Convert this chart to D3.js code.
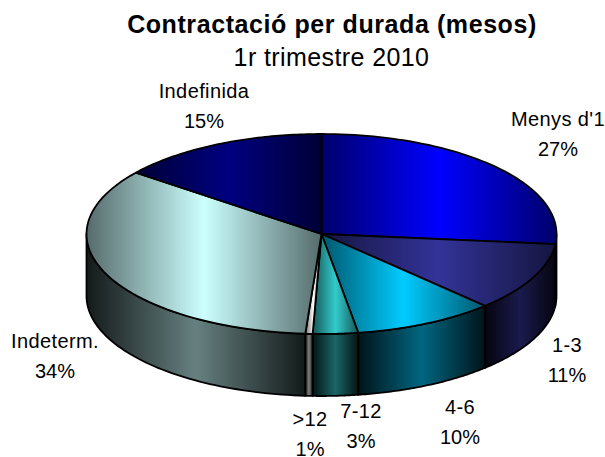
<!DOCTYPE html>
<html><head><meta charset="utf-8">
<script src="https://cdnjs.cloudflare.com/ajax/libs/d3/7.8.5/d3.min.js"></script>
<style>html,body{margin:0;padding:0;background:#fff}svg{display:block}text{font-family:"Liberation Sans",Arial,sans-serif;fill:#000}</style>
</head><body><svg id="c" width="605" height="457"></svg>
<script>
const categories = ["Menys d'1","1-3","4-6","7-12",">12","Indeterm.","Indefinida"];
const values = [26.6,11.15,9.75,3.1,0.5,34.4,14.5];
const colors = ["#0000ff","#333399","#00ccff","#33cccc","#ffffff","#ccffff","#000080"];
const labelAnchors = [[558,126],[567,352],[460,414],[361,418],[310,426],[55,348],[204,98]];

const svg = d3.select("#c"), defs = svg.append("defs");
const cx = 321.5, cy = 234, rx = 235, ry = 100, depth = 62;
const pie = d3.pie().sort(null).startAngle(0).endAngle(2*Math.PI).value(d=>d);
const arcs = pie(values);
const ex = a => cx + rx*Math.sin(a);
const ey = (a,dz=0) => cy - ry*Math.cos(a) + dz;
const line = d3.line();
const samples = (a0,a1) => d3.range(0,61).map(i=>a0+(a1-a0)*i/60);

function gradient(id,col,x0,x1,edge,mid){
  const c = d3.rgb(col);
  const scale = k => d3.rgb(c.r*k,c.g*k,c.b*k).formatHex();
  const g = defs.append("linearGradient").attr("id",id).attr("gradientUnits","userSpaceOnUse")
    .attr("x1",x0).attr("x2",x1).attr("y1",0).attr("y2",0);
  [[0,edge],[.5,mid],[1,edge]].forEach(([o,k])=>g.append("stop").attr("offset",o).attr("stop-color",scale(k)));
}

// side walls (only the front half of the rim is visible)
const front0 = Math.PI/2, front1 = 3*Math.PI/2;
arcs.forEach((d,i)=>{
  const a0 = Math.max(d.startAngle,front0), a1 = Math.min(d.endAngle,front1);
  if(a1<=a0) return;
  const pts = samples(a0,a1);
  const xs = pts.map(ex);
  gradient("w"+i,colors[i],d3.min(xs),d3.max(xs),.1,.5);
  const top = pts.map(a=>[ex(a),ey(a)]);
  const bot = pts.slice().reverse().map(a=>[ex(a),ey(a,depth)]);
  svg.append("path").attr("d",line(top.concat(bot))+"Z")
    .attr("fill",`url(#w${i})`).attr("stroke","#000").attr("stroke-width",1.8).attr("stroke-linejoin","round");
});

// top faces
arcs.forEach((d,i)=>{
  const pts = samples(d.startAngle,d.endAngle).map(a=>[ex(a),ey(a)]);
  const xs = pts.map(p=>p[0]).concat([cx]);
  gradient("t"+i,colors[i],d3.min(xs),d3.max(xs),.42,1);
  svg.append("path").attr("d",line([[cx,cy]].concat(pts))+"Z")
    .attr("fill",`url(#t${i})`).attr("stroke","#000").attr("stroke-width",1.8).attr("stroke-linejoin","round");
});

// labels
categories.forEach((c,i)=>{
  const [x,y] = labelAnchors[i];
  svg.append("text").attr("x",x).attr("y",y).attr("text-anchor","middle").attr("font-size",20).attr("letter-spacing",".4").text(c);
  svg.append("text").attr("x",x).attr("y",y+30).attr("text-anchor","middle").attr("font-size",20).text(Math.round(values[i])+"%");
});
svg.append("text").attr("x",332).attr("y",33).attr("text-anchor","middle").attr("font-size",25).attr("letter-spacing",".58").attr("font-weight","bold").text("Contractació per durada (mesos)");
svg.append("text").attr("x",331.5).attr("y",66).attr("text-anchor","middle").attr("font-size",25).attr("letter-spacing",".4").text("1r trimestre 2010");
</script></body></html>
